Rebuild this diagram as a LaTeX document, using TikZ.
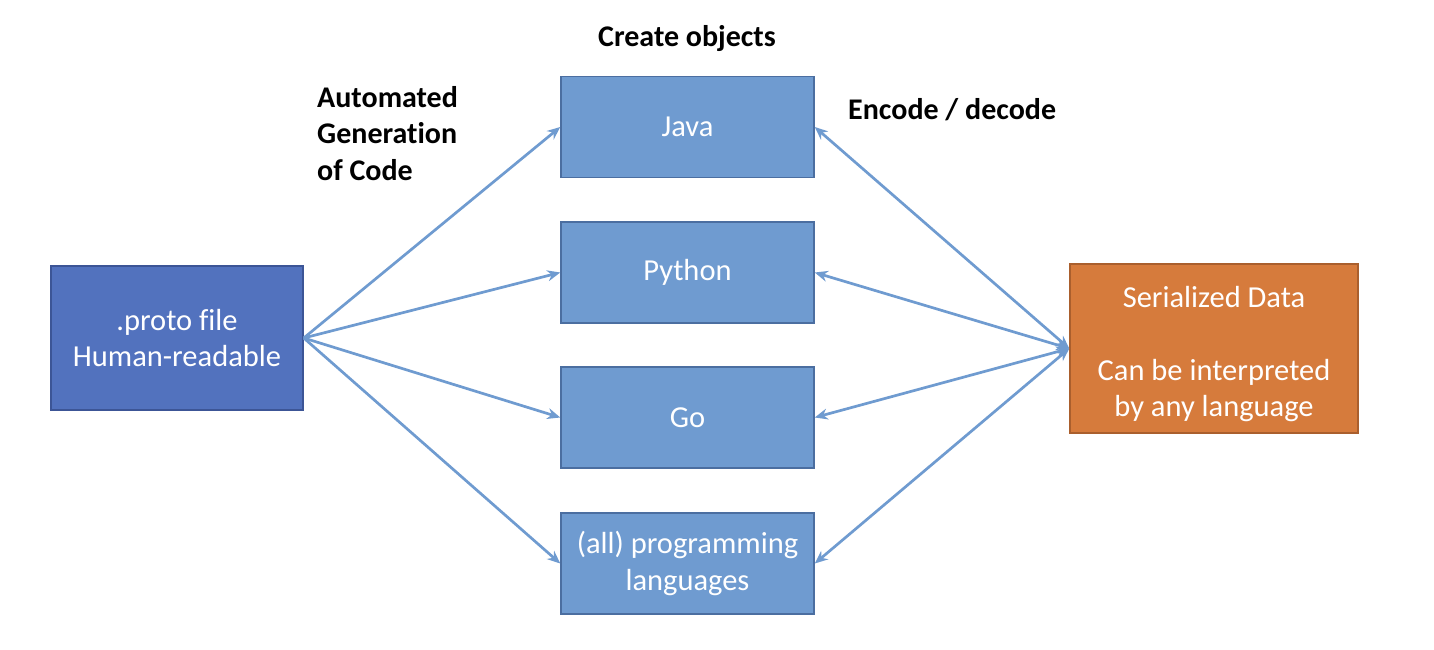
\documentclass[tikz,border=0pt]{standalone}
\usepackage{fontspec}
\setmainfont[Ligatures=NoCommon]{Carlito}
\usetikzlibrary{arrows.meta}
\definecolor{protofill}{RGB}{82,114,190}
\definecolor{protoedge}{RGB}{60,85,150}
\definecolor{langfill}{RGB}{111,155,208}
\definecolor{langedge}{RGB}{75,110,160}
\definecolor{serfill}{RGB}{214,123,60}
\definecolor{seredge}{RGB}{170,95,45}
\definecolor{arrowc}{RGB}{111,155,208}
\tikzset{
  box/.style={draw, line width=1.5pt, text=white, align=center, inner sep=0pt,
    font=\fontsize{30.5}{36.5}\selectfont},
  protobox/.style={box, fill=protofill, draw=protoedge, minimum width=252pt, minimum height=144pt},
  langbox/.style={box, fill=langfill, draw=langedge, minimum width=253pt, minimum height=101pt},
  serbox/.style={box, fill=serfill, draw=seredge, minimum width=288pt, minimum height=169pt},
  conn/.style={draw=arrowc, line width=2.7pt, -{Stealth[length=13pt,width=11pt]}},
  biconn/.style={draw=arrowc, line width=2.7pt, {Stealth[length=13pt,width=11pt]}-{Stealth[length=13pt,width=11pt]}},
  lbl/.style={font=\bfseries\fontsize{30}{36.5}\selectfont, inner sep=0pt}
}
\begin{document}
\begin{tikzpicture}[x=1pt,y=-1pt]
\useasboundingbox (0,0) rectangle (1434,650);
\node[protobox] (proto) at (177,338) {.proto file\\Human-readable};
\node[langbox] (java) at (687.5,127) {Java};
\node[langbox] (python) at (687.5,272.5) {Python};
\node[langbox] (go) at (687.5,417.5) {Go};
\node[langbox] (all) at (687.5,563.5) {(all) programming\\languages};
\node[serbox] (ser) at (1214,348.5) {\rule{0pt}{32pt}Serialized Data\\[36.5pt]Can be interpreted\\by any language};
\draw[conn] (proto.east) -- (java.west);
\draw[conn] (proto.east) -- (python.west);
\draw[conn] (proto.east) -- (go.west);
\draw[conn] (proto.east) -- (all.west);
\draw[biconn] (ser.west) -- (java.east);
\draw[biconn] (ser.west) -- (python.east);
\draw[biconn] (ser.west) -- (go.east);
\draw[biconn] (ser.west) -- (all.east);
\node[lbl, anchor=center] (create) at (687,39) {Create objects};
\node[lbl, anchor=north west, align=left] (auto) at (317,86) {Automated\\Generation\\of Code};
\node[lbl, anchor=west] (enc) at (848,110) {Encode / decode};
\end{tikzpicture}
\end{document}
